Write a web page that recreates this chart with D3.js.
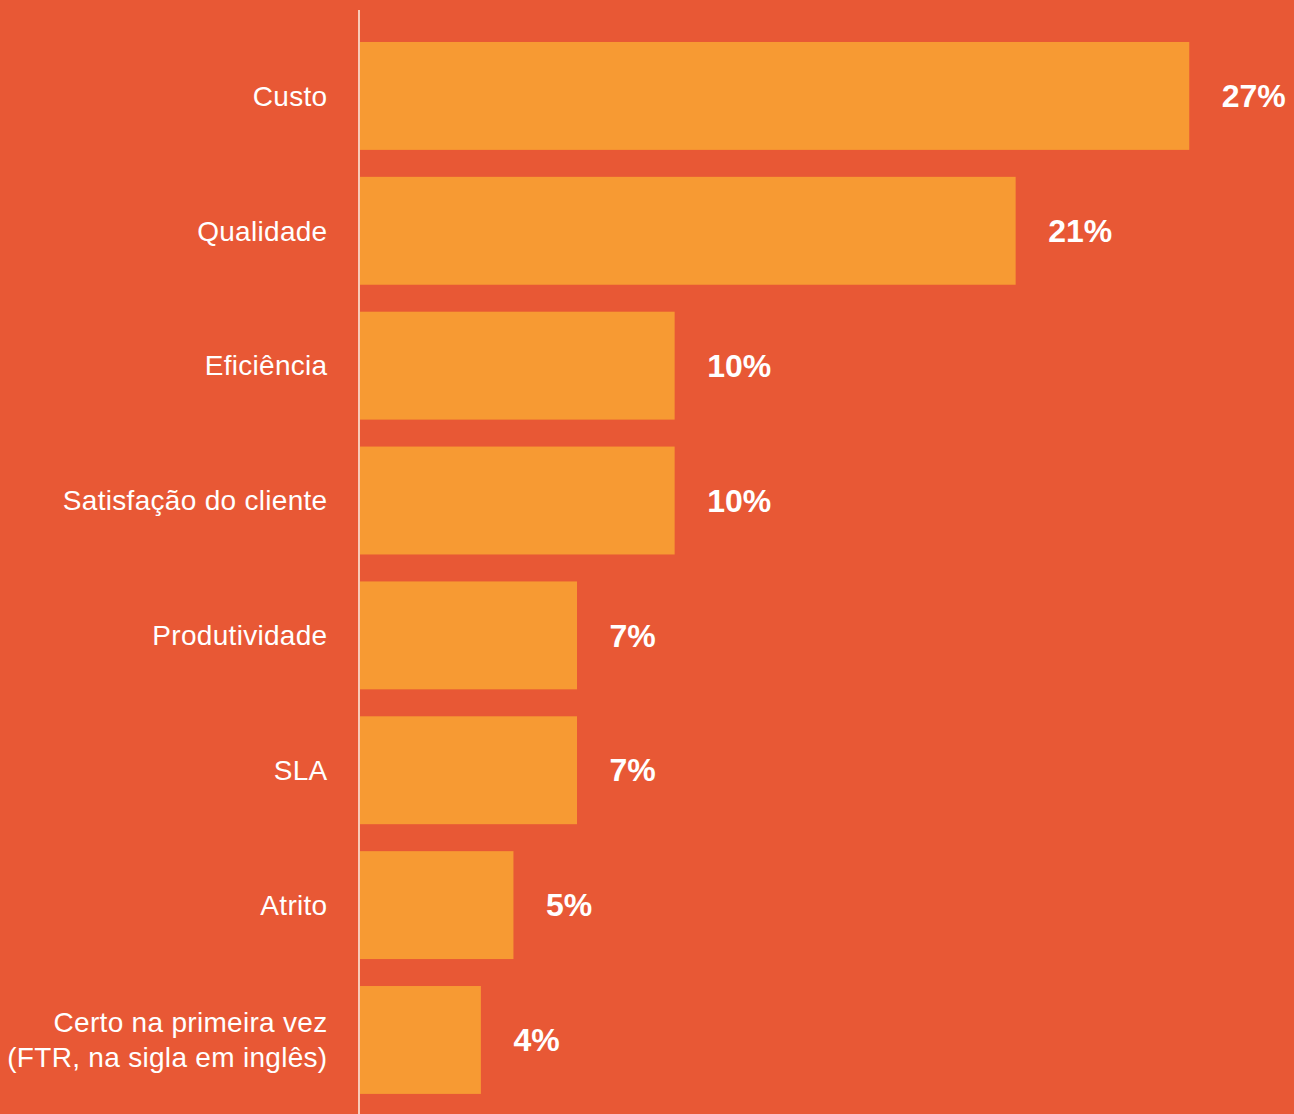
<!DOCTYPE html>
<html>
<head>
<meta charset="utf-8">
<script src="https://cdn.jsdelivr.net/npm/d3@7"></script>
<style>
  html, body { margin: 0; padding: 0; background: #E85835; }
  svg { display: block; }
</style>
</head>
<body>
<script>
/*** data ***/
const categories = [
  ["Custo"],
  ["Qualidade"],
  ["Eficiência"],
  ["Satisfação do cliente"],
  ["Produtividade"],
  ["SLA"],
  ["Atrito"],
  ["Certo na primeira vez", "(FTR, na sigla em inglês)"]
];
const values = [26.75, 21.15, 10.15, 10.15, 7.0, 7.0, 4.95, 3.9];

/*** layout ***/
const width = 1294, height = 1114;
const x0 = 360;

const svg = d3.select("body").append("svg")
  .attr("width", width)
  .attr("height", height);

const x = d3.scaleLinear().domain([0, 1]).range([x0, x0 + 31]);

const y = d3.scaleBand()
  .domain(d3.range(values.length))
  .range([28.5, 1107.4])
  .paddingInner(0.2)
  .paddingOuter(0.1);

// bars
svg.append("g")
  .selectAll("rect")
  .data(values)
  .join("rect")
  .attr("x", x(0))
  .attr("y", (d, i) => y(i))
  .attr("width", d => x(d) - x(0))
  .attr("height", y.bandwidth())
  .attr("fill", "#F79A33");

// axis line
svg.append("line")
  .attr("x1", 359).attr("x2", 359)
  .attr("y1", 10).attr("y2", height)
  .attr("stroke", "#FFF1E4")
  .attr("stroke-width", 1.5);

// value labels
svg.append("g")
  .selectAll("text")
  .data(values)
  .join("text")
  .attr("x", d => x(d) + 32.5)
  .attr("y", (d, i) => y(i) + y.bandwidth() / 2)
  .attr("dy", "0.35em")
  .attr("fill", "#fff")
  .attr("font-family", "'Liberation Sans', Arial, Helvetica, sans-serif")
  .attr("font-weight", "bold")
  .attr("font-size", 32)
  .text(d => Math.round(d) + "%");

// category labels
const cat = svg.append("g")
  .selectAll("text")
  .data(categories)
  .join("text")
  .attr("x", 327.5)
  .attr("y", (d, i) => y(i) + y.bandwidth() / 2)
  .attr("text-anchor", "end")
  .attr("fill", "#fff")
  .attr("font-family", "'Liberation Sans', Arial, Helvetica, sans-serif")
  .attr("font-size", 28)
  .attr("letter-spacing", "0.3px");

cat.selectAll("tspan")
  .data(d => d.map((t, j) => ({ t, j, n: d.length })))
  .join("tspan")
  .attr("x", 327.5)
  .attr("dy", d => d.j === 0 ? (0.35 - (d.n - 1) * 0.625) + "em" : "1.25em")
  .text(d => d.t);
</script>
</body>
</html>
